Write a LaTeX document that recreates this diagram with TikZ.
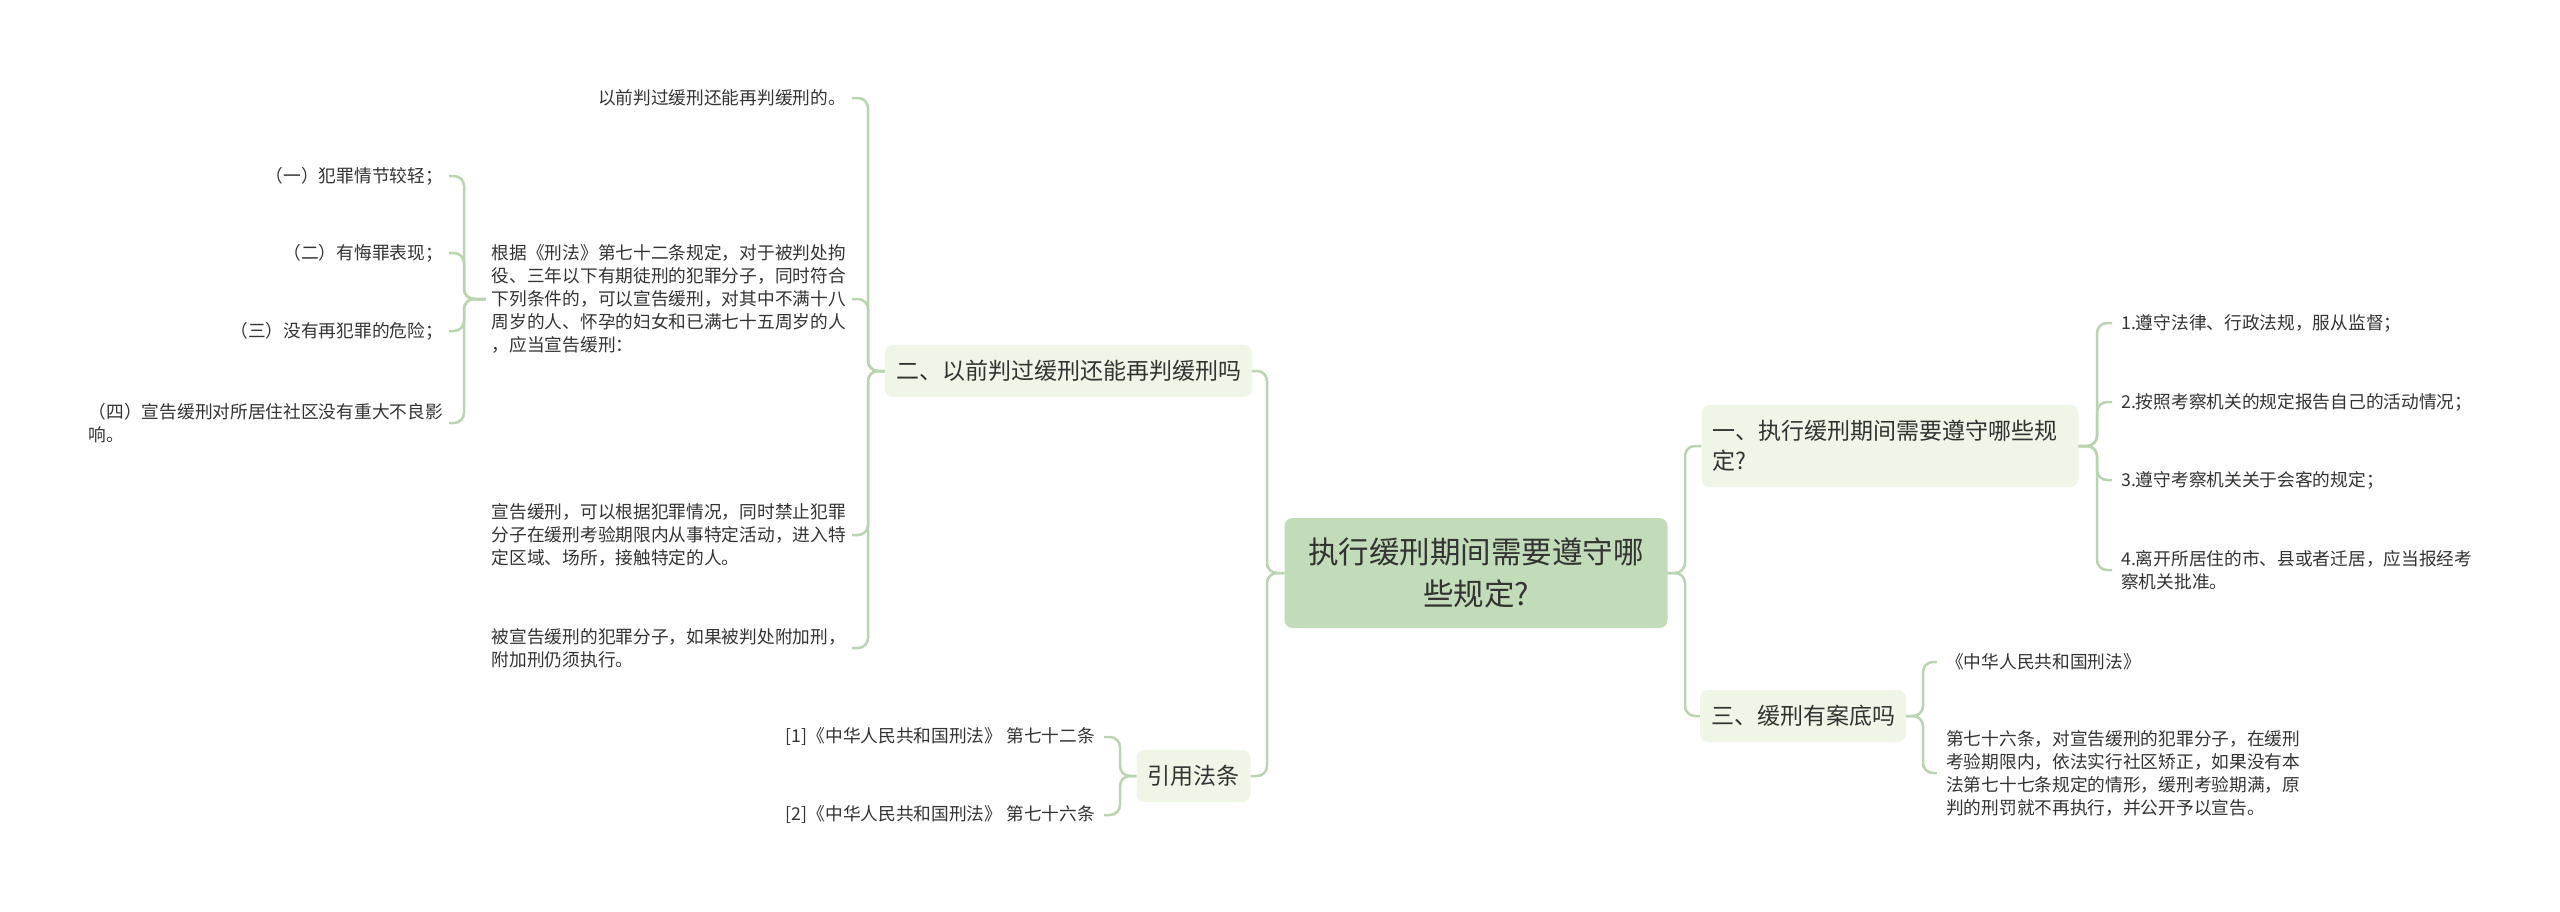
\documentclass[tikz,border=0pt]{standalone}
\usepackage{fontspec}
\setmainfont{Noto Sans CJK SC}
\usetikzlibrary{calc}
\definecolor{rootfill}{HTML}{C2DBB9}
\definecolor{lvlfill}{HTML}{EFF6E8}
\definecolor{linec}{HTML}{B9D5AF}
\definecolor{txt}{HTML}{333333}
\tikzset{
  rootbox/.style={fill=rootfill, rounded corners=8pt, minimum width=383pt, minimum height=110pt,
    align=center, text=txt, font=\fontsize{30.5}{42}\selectfont, inner sep=0pt},
  lvlbox/.style={fill=lvlfill, rounded corners=8pt, minimum height=52pt, text=txt,
    font=\fontsize{23}{30}\selectfont, inner xsep=11pt, inner ysep=0pt},
  leafL/.style={anchor=east, align=right, text=txt, font=\fontsize{17.7}{23}\selectfont,
    inner xsep=6pt, inner ysep=2pt},
  leafR/.style={anchor=west, align=left, text=txt, font=\fontsize{17.7}{23}\selectfont,
    inner xsep=9pt, inner ysep=2pt},
  conn/.style={draw=linec, line width=2.5pt, rounded corners=10pt},
}
\begin{document}
\begin{tikzpicture}[x=1pt,y=-1pt]
\useasboundingbox (0,0) rectangle (2560,911);

% trunk coordinates
\coordinate (tL) at (1267,0);
\coordinate (tR) at (1685,0);
\coordinate (t2) at (868,0);
\coordinate (tA) at (464,0);
\coordinate (t1) at (2097,0);
\coordinate (t3) at (1923,0);
\coordinate (tY) at (1120,0);

% main nodes
\node[rootbox] (root) at (1476,573) {执行缓刑期间需要遵守哪\\些规定?};
\node[lvlbox, minimum width=364pt] (n2) at (1068.5,371) {二、以前判过缓刑还能再判缓刑吗};
\node[lvlbox, minimum width=113pt] (ny) at (1193.5,776) {引用法条};
\node[lvlbox, minimum height=82pt, align=left, text width=355pt] (n1) at (1890,446) {一、执行缓刑期间需要遵守哪些规\\定?};
\node[lvlbox, minimum width=200pt] (n3) at (1803,716) {三、缓刑有案底吗};

% left branch leaves
\node[leafL] (a1) at (852,98) {以前判过缓刑还能再判缓刑的。};
\node[leafL, align=left] (a2) at (852,299) {根据《刑法》第七十二条规定，对于被判处拘\\役、三年以下有期徒刑的犯罪分子，同时符合\\下列条件的，可以宣告缓刑，对其中不满十八\\周岁的人、怀孕的妇女和已满七十五周岁的人\\，应当宣告缓刑：};
\node[leafL, align=left] (a3) at (852,535) {宣告缓刑，可以根据犯罪情况，同时禁止犯罪\\分子在缓刑考验期限内从事特定活动，进入特\\定区域、场所，接触特定的人。};
\node[leafL, align=left] (a4) at (852,648) {被宣告缓刑的犯罪分子，如果被判处附加刑，\\附加刑仍须执行。};

\node[leafL] (b1) at (449,176) {（一）犯罪情节较轻；};
\node[leafL] (b2) at (449,253) {（二）有悔罪表现；};
\node[leafL] (b3) at (449,331) {（三）没有再犯罪的危险；};
\node[leafL, align=left] (b4) at (449,423) {（四）宣告缓刑对所居住社区没有重大不良影\\响。};

\node[leafL, inner xsep=9pt] (e1) at (1104,737) {[1]《中华人民共和国刑法》 第七十二条};
\node[leafL, inner xsep=9pt] (e2) at (1104,815) {[2]《中华人民共和国刑法》 第七十六条};

% right branch leaves
\node[leafR] (c1) at (2112,323) {1.遵守法律、行政法规，服从监督；};
\node[leafR] (c2) at (2112,402) {2.按照考察机关的规定报告自己的活动情况；};
\node[leafR] (c3) at (2112,480) {3.遵守考察机关关于会客的规定；};
\node[leafR] (c4) at (2112,570) {4.离开所居住的市、县或者迁居，应当报经考\\察机关批准。};

\node[leafR] (d1) at (1937,662) {《中华人民共和国刑法》};
\node[leafR] (d2) at (1937,773) {第七十六条，对宣告缓刑的犯罪分子，在缓刑\\考验期限内，依法实行社区矫正，如果没有本\\法第七十七条规定的情形，缓刑考验期满，原\\判的刑罚就不再执行，并公开予以宣告。};

% connectors
\draw[conn] (root.west) -- (root.west -| tL) |- (n2.east);
\draw[conn] (root.west) -- (root.west -| tL) |- (ny.east);
\draw[conn] (root.east) -- (root.east -| tR) |- (n1.west);
\draw[conn] (root.east) -- (root.east -| tR) |- (n3.west);

\foreach \c in {a1,a2,a3,a4}
  \draw[conn] (n2.west) -- (n2.west -| t2) |- (\c.east);
\foreach \c in {b1,b2,b3,b4}
  \draw[conn] (a2.west) -- (a2.west -| tA) |- (\c.east);
\foreach \c in {e1,e2}
  \draw[conn] (ny.west) -- (ny.west -| tY) |- (\c.east);
\foreach \c in {c1,c2,c3,c4}
  \draw[conn] (n1.east) -- (n1.east -| t1) |- (\c.west);
\foreach \c in {d1,d2}
  \draw[conn] (n3.east) -- (n3.east -| t3) |- (\c.west);
\end{tikzpicture}
\end{document}
